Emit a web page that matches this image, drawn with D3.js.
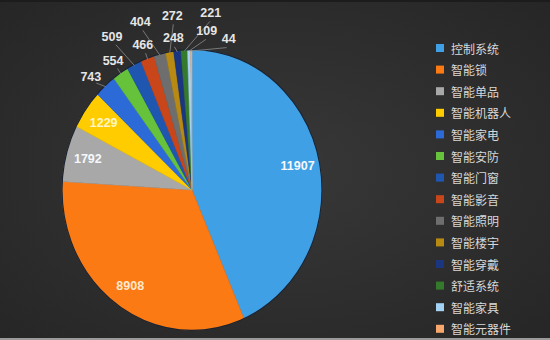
<!DOCTYPE html>
<html>
<head>
<meta charset="utf-8">
<script src="https://cdn.jsdelivr.net/npm/d3@7"></script>
<style>
  html, body { margin: 0; padding: 0; background: #2c2c2c; }
  svg { display: block; }
  .num { font-family: "Liberation Sans", "DejaVu Sans", sans-serif; font-size: 12.5px; font-weight: bold; }
  .legend-text { font-family: "Noto Sans CJK SC", sans-serif; font-size: 12px; fill: #d8d8d8; }
</style>
</head>
<body>
<svg id="chart"></svg>
<script>
const categories = ["控制系统", "智能锁", "智能单品", "智能机器人", "智能家电", "智能安防", "智能门窗",
  "智能影音", "智能照明", "智能楼宇", "智能穿戴", "舒适系统", "智能家具", "智能元器件"];
const values = [11907, 8908, 1792, 1229, 743, 554, 509, 466, 404, 272, 248, 221, 109, 44];
const colors = ["#3fa0e6", "#fb7a14", "#a8a8a8", "#ffcc00", "#2c6ad8", "#66c23a", "#1e56b0",
  "#c9451a", "#6e6e6e", "#b88a12", "#1b3680", "#357a2c", "#a3d2f5", "#f8a86c"];

const data = categories.map((name, i) => ({ name, value: values[i], color: colors[i] }));

const width = 550;
const height = 340;
const cx = 192;
const cy = 190;
const R = 130;
const sy = 1.08; // the source pie is slightly taller than wide

const svg = d3.select("#chart").attr("width", width).attr("height", height);

// background
const defs = svg.append("defs");
const bg = defs.append("radialGradient").attr("id", "bg").attr("cx", "50%").attr("cy", "50%").attr("r", "70%");
bg.append("stop").attr("offset", "0%").attr("stop-color", "#383838");
bg.append("stop").attr("offset", "100%").attr("stop-color", "#262626");
svg.append("rect").attr("width", width).attr("height", height).attr("fill", "url(#bg)");
svg.append("rect").attr("width", width).attr("height", 2).attr("fill", "#1c1c1c");
svg.append("rect").attr("y", height - 2).attr("width", width).attr("height", 2).attr("fill", "#9a9a9a");

const pie = d3.pie().sort(null).value((d) => d.value);
const arcs = pie(data);
const arc = d3.arc().innerRadius(0).outerRadius(R);
const labelArc = d3.arc().innerRadius(R * 0.83).outerRadius(R * 0.83);

const pieG = svg.append("g").attr("transform", `translate(${cx},${cy}) scale(1,${sy})`);

pieG.append("g")
  .selectAll("path")
  .data(arcs)
  .join("path")
  .attr("d", arc)
  .attr("fill", (d) => d.data.color)
  .attr("stroke", (d) => d.data.color)
  .attr("stroke-width", 0.4);

pieG.append("circle")
  .attr("r", R)
  .attr("fill", "none")
  .attr("stroke", "#1d2430")
  .attr("stroke-width", 1.2);

// inner labels for the big slices
const toScreen = ([x, y]) => [cx + x, cy + y * sy];
svg.append("g")
  .selectAll("text")
  .data(arcs.slice(0, 4))
  .join("text")
  .attr("class", "num")
  .attr("text-anchor", "middle")
  .attr("dominant-baseline", "central")
  .attr("fill", (d, i) => (i === 3 ? "#fff6c8" : i === 1 ? "#ffe8cc" : "#f4f8fc"))
  .attr("x", (d) => toScreen(labelArc.centroid(d))[0])
  .attr("y", (d) => toScreen(labelArc.centroid(d))[1])
  .text((d) => d.data.value);

// outer labels: staggered radius and small angle nudges so they do not collide
const outerLayout = {
  743: [-2, 1.12], 554: [0, 1.1], 509: [-3, 1.25], 466: [0, 1.1], 404: [-4, 1.26],
  272: [3, 1.25], 248: [-1, 1.09], 221: [10, 1.27], 109: [7, 1.14], 44: [15, 1.11],
};
const small = arcs.slice(4);
const deg = Math.PI / 180;
const polar = (a, r) => [cx + Math.sin(a) * r, cy - Math.cos(a) * r * sy];

const outer = svg.append("g");
small.forEach((d) => {
  const mid = (d.startAngle + d.endAngle) / 2;
  const [shift, f] = outerLayout[d.data.value];
  const la = mid + shift * deg;
  const [lx, ly] = polar(la, R * f);
  const [ex, ey] = polar(mid, R * 0.99);
  const [sx, syy] = polar(la, R * f - 8);
  outer.append("line")
    .attr("x1", sx).attr("y1", syy)
    .attr("x2", ex).attr("y2", ey)
    .attr("stroke", "#8a8a8a")
    .attr("stroke-width", 0.8);
  outer.append("text")
    .attr("class", "num")
    .attr("fill", "#e6e6e6")
    .attr("text-anchor", "middle")
    .attr("dominant-baseline", "central")
    .attr("x", lx)
    .attr("y", ly)
    .text(d.data.value);
});

// legend
const legend = svg.append("g").attr("transform", "translate(436,48)");
const row = legend.selectAll("g")
  .data(data)
  .join("g")
  .attr("transform", (d, i) => `translate(0,${i * 21.6})`);
row.append("rect")
  .attr("x", 0).attr("y", -4)
  .attr("width", 8).attr("height", 8)
  .attr("fill", (d) => d.color);
row.append("text")
  .attr("class", "legend-text")
  .attr("x", 15)
  .attr("dominant-baseline", "central")
  .text((d) => d.name);
</script>
</body>
</html>
